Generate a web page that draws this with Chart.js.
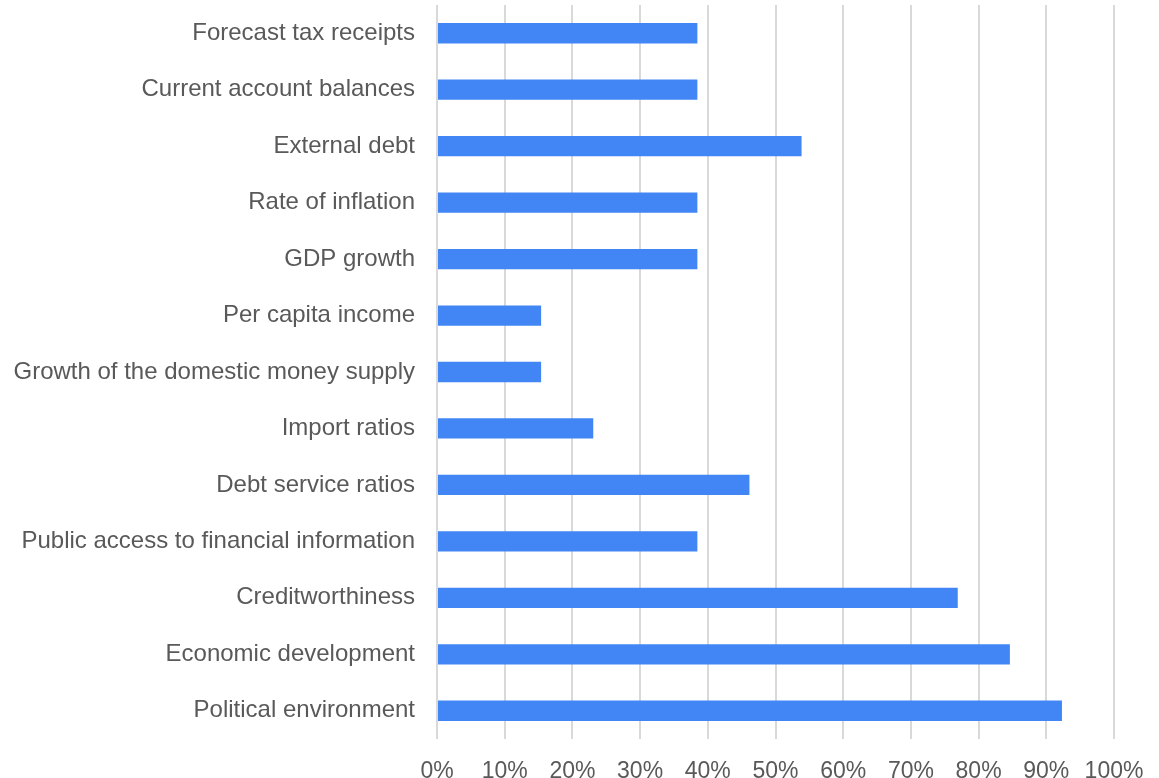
<!DOCTYPE html>
<html lang="en">
<head>
  <meta charset="UTF-8">
  <title>Country risk factors</title>
  <script src="https://cdn.jsdelivr.net/npm/chart.js"></script>
  <style>
    html, body {
      margin: 0;
      padding: 0;
      background: #ffffff;
    }
    #chart-box {
      width: 1159px;
      height: 778px;
    }
  </style>
</head>
<body>
  <div id="chart-box">
    <canvas id="barChart"></canvas>
  </div>

  <script>
    // share of respondents citing each factor (out of 13)
    const factors = [
      "Forecast tax receipts",
      "Current account balances",
      "External debt",
      "Rate of inflation",
      "GDP growth",
      "Per capita income",
      "Growth of the domestic money supply",
      "Import ratios",
      "Debt service ratios",
      "Public access to financial information",
      "Creditworthiness",
      "Economic development",
      "Political environment"
    ];
    const shares = [
      0.3846, 0.3846, 0.5385, 0.3846, 0.3846, 0.1538, 0.1538,
      0.2308, 0.4615, 0.3846, 0.7692, 0.8462, 0.9231
    ];
    const xTicks = [0, 0.1, 0.2, 0.3, 0.4, 0.5, 0.6, 0.7, 0.8, 0.9, 1];

    const textColor = "#595959";
    const family = "'Liberation Sans', Arial, sans-serif";

    new Chart(document.getElementById("barChart"), {
      type: "bar",
      data: {
        labels: factors,
        datasets: [{
          data: shares,
          backgroundColor: "#4285f4",
          barPercentage: 0.36,
          categoryPercentage: 1
        }]
      },
      options: {
        indexAxis: "y",
        responsive: true,
        maintainAspectRatio: false,
        animation: false,
        layout: { padding: { top: 5, right: 45, left: 0, bottom: 0 } },
        plugins: {
          legend: { display: false },
          tooltip: { enabled: false }
        },
        scales: {
          x: {
            min: 0,
            max: 1,
            afterBuildTicks: (scale) => {
              scale.ticks = xTicks.map(v => ({ value: v }));
            },
            afterFit: (scale) => {
              scale.height = 39;
              scale.paddingLeft = 0;
              scale.paddingRight = 0;
            },
            grid: {
              color: "#d9d9d9",
              lineWidth: 2,
              drawTicks: false
            },
            border: { display: false },
            ticks: {
              padding: 19,
              color: textColor,
              font: { family: family, size: 23 },
              maxRotation: 0,
              callback: (v) => Math.round(v * 100) + "%"
            }
          },
          y: {
            afterFit: (scale) => {
              scale.width = 437;
              scale.paddingTop = 0;
              scale.paddingBottom = 0;
            },
            grid: { display: false, drawTicks: false },
            border: { display: false },
            ticks: {
              padding: 22,
              color: textColor,
              font: { family: family, size: 24 },
              autoSkip: false
            }
          }
        }
      }
    });
  </script>
</body>
</html>
